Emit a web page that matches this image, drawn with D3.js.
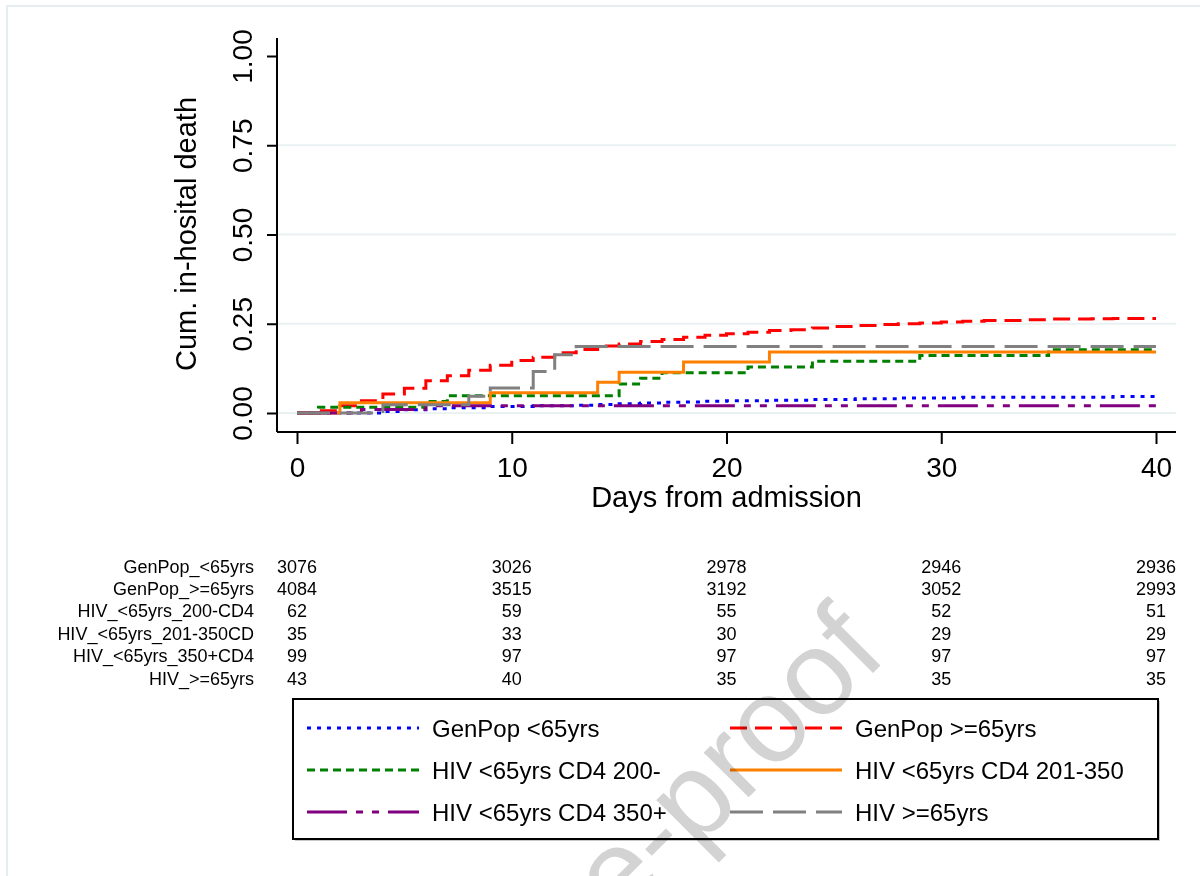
<!DOCTYPE html>
<html>
<head>
<meta charset="utf-8">
<script src="https://cdn.jsdelivr.net/npm/d3@7"></script>
<style>
  body { margin: 0; background: #fff; }
  svg { display: block; font-family: "Liberation Sans", Arial, sans-serif; }
</style>
</head>
<body>
<div id="chart"></div>
<script>
// series in legend order: [day, cumulative incidence] step points
let genPopUnder65 = [[0,0],[4,0.004],[5,0.009],[6,0.012],[7,0.015],[9,0.018],[11,0.020],[13,0.022],[14,0.024],[15,0.026],[16,0.028],[17,0.030],[18,0.031],[19,0.033],[20,0.034],[22,0.036],[24,0.038],[26,0.040],[28,0.042],[31,0.044],[38,0.046],[40,0.046]]
let genPopOver65 = [[0,0],[1,0.006],[2,0.02],[3,0.034],[4,0.053],[5,0.069],[6,0.09],[7,0.104],[8,0.12],[9,0.134],[10,0.147],[11,0.156],[12,0.169],[13,0.178],[14,0.188],[15,0.193],[16,0.200],[17,0.206],[18,0.212],[19,0.218],[20,0.222],[21,0.226],[22,0.231],[23,0.233],[24,0.238],[25,0.242],[26,0.245],[27,0.248],[28,0.250],[29,0.252],[30,0.255],[31,0.257],[32,0.259],[34,0.261],[35,0.263],[37,0.264],[38,0.265],[40,0.265]]
let hivCd4Low = [[0,0],[1,0.016],[6,0.032],[7,0.048],[15,0.081],[16,0.097],[17,0.113],[21,0.129],[24,0.145],[29,0.161],[35,0.177],[40,0.177]]
let hivCd4Mid = [[0,0],[2,0.029],[9,0.057],[14,0.086],[15,0.114],[18,0.143],[22,0.171],[40,0.171]]
let hivCd4High = [[0,0],[3,0.010],[6,0.020],[40,0.020]]
let hivOver65 = [[0,0],[4,0.023],[8,0.047],[9,0.070],[11,0.116],[12,0.163],[13,0.186],[40,0.186]]

let legendLabels = ["GenPop <65yrs", "GenPop >=65yrs", "HIV <65yrs CD4 200-", "HIV <65yrs CD4 201-350", "HIV <65yrs CD4 350+", "HIV >=65yrs"]

// number at risk table
let riskLabels = ["GenPop_<65yrs", "GenPop_>=65yrs", "HIV_<65yrs_200-CD4", "HIV_<65yrs_201-350CD", "HIV_<65yrs_350+CD4", "HIV_>=65yrs"]
let riskDays = [0, 10, 20, 30, 40]
let riskCounts = [
  [3076, 3026, 2978, 2946, 2936],
  [4084, 3515, 3192, 3052, 2993],
  [62, 59, 55, 52, 51],
  [35, 33, 30, 29, 29],
  [99, 97, 97, 97, 97],
  [43, 40, 35, 35, 35]
]

let xTicks = [0, 10, 20, 30, 40]
let yTicks = [0, 0.25, 0.5, 0.75, 1]

let series = [genPopUnder65, genPopOver65, hivCd4Low, hivCd4Mid, hivCd4High, hivOver65]
let colors = ["#0000ff", "#ff0000", "#008000", "#ff8000", "#800080", "#808080"]
let dashes = ["4,6", "17,8", "8,5", null, "40,9,7,9,7,9", "33,10"]

let W = 1200, H = 876
let plot = {left: 277, right: 1176, top: 38, bottom: 432}

let svg = d3.select("#chart").append("svg")
    .attr("width", W)
    .attr("height", H)

// faint page frame (top and left only)
svg.append("path")
  .attr("d", "M7,876V6H1200")
  .attr("fill", "none")
  .attr("stroke", "#e6edf1")
  .attr("stroke-width", 2)

let xScale = d3.scaleLinear()
    .domain([0, 40])
    .range([297, 1156])

let yScale = d3.scaleLinear()
    .domain([0, 1])
    .range([413, 56])

// gridlines
svg.append("g")
  .selectAll("line")
  .data(yTicks.filter(d => d < 1))
  .enter().append("line")
  .attr("x1", plot.left)
  .attr("x2", plot.right)
  .attr("y1", d => yScale(d))
  .attr("y2", d => yScale(d))
  .attr("stroke", "#eaf1f3")
  .attr("stroke-width", 2)

// axes
let xAxis = d3.axisBottom(xScale)
    .tickValues(xTicks)
    .tickSize(12)
    .tickPadding(13)
    .tickSizeOuter(0)

let yAxis = d3.axisLeft(yScale)
    .tickValues(yTicks)
    .tickSize(10)
    .tickFormat(d3.format(".2f"))
    .tickSizeOuter(0)

let gx = svg.append("g")
  .attr("transform", "translate(0," + plot.bottom + ")")
  .call(xAxis)
gx.select(".domain").attr("d", "M" + plot.left + ",0H" + plot.right)
gx.selectAll("path, line").attr("stroke", "#000").attr("stroke-width", 2)
gx.selectAll("text")
  .attr("font-size", 28)
  .attr("font-family", "Liberation Sans, Arial, sans-serif")
  .attr("fill", "#000")

let gy = svg.append("g")
  .attr("transform", "translate(" + plot.left + ",0)")
  .call(yAxis)
gy.select(".domain").attr("d", "M0," + plot.top + "V" + plot.bottom)
gy.selectAll("path, line").attr("stroke", "#000").attr("stroke-width", 2)
gy.selectAll("text")
  .attr("font-size", 28)
  .attr("font-family", "Liberation Sans, Arial, sans-serif")
  .attr("fill", "#000")
  .attr("x", 0)
  .attr("dy", 0)
  .attr("text-anchor", "middle")
  .attr("transform", "translate(-25,0) rotate(-90)")

// axis titles
svg.append("text")
  .attr("x", xScale(20))
  .attr("y", 507)
  .attr("text-anchor", "middle")
  .attr("font-size", 29)
  .text("Days from admission")

svg.append("text")
  .attr("transform", "translate(196," + 234 + ") rotate(-90)")
  .attr("text-anchor", "middle")
  .attr("font-size", 29)
  .text("Cum. in-hosital death")

// curves
let line = d3.line()
    .x(d => xScale(d[0]))
    .y(d => yScale(d[1]))
    .curve(d3.curveStepAfter)

svg.append("g")
  .selectAll("path")
  .data(series)
  .enter().append("path")
  .attr("d", line)
  .attr("fill", "none")
  .attr("stroke", (d, i) => colors[i])
  .attr("stroke-width", 3)
  .attr("stroke-dasharray", (d, i) => dashes[i])

// number at risk table
let risk = svg.append("g").attr("font-size", 18).attr("fill", "#000")
riskLabels.forEach((lab, i) => {
  let y = 572.5 + i * 22.4
  risk.append("text")
    .attr("x", 254)
    .attr("y", y)
    .attr("text-anchor", "end")
    .text(lab)
  risk.selectAll(null)
    .data(riskCounts[i])
    .enter().append("text")
    .attr("x", (d, j) => xScale(riskDays[j]))
    .attr("y", y)
    .attr("text-anchor", "middle")
    .text(d => d)
})

// legend
let legend = svg.append("g")
legend.append("rect")
  .attr("x", 295)
  .attr("y", 701)
  .attr("width", 865)
  .attr("height", 140)
  .attr("fill", "#c8c8c8")
legend.append("rect")
  .attr("x", 293)
  .attr("y", 699)
  .attr("width", 865)
  .attr("height", 140)
  .attr("fill", "#fff")
  .attr("stroke", "#000")
  .attr("stroke-width", 2)

legendLabels.forEach((lab, i) => {
  let col = i % 2, row = Math.floor(i / 2)
  let x0 = col === 0 ? 307 : 730
  let y = 728 + row * 42
  legend.append("line")
    .attr("x1", x0)
    .attr("x2", x0 + 112)
    .attr("y1", y)
    .attr("y2", y)
    .attr("stroke", colors[i])
    .attr("stroke-width", 3)
    .attr("stroke-dasharray", dashes[i])
  legend.append("text")
    .attr("x", x0 + 125)
    .attr("y", y + 9)
    .attr("font-size", 24)
    .text(lab)
})

// watermark
svg.append("text")
  .attr("transform", "translate(889,657) rotate(-45)")
  .attr("text-anchor", "end")
  .attr("font-size", 120)
  .attr("fill", "#d3d3d3")
  .style("mix-blend-mode", "multiply")
  .text("Journal Pre-proof")
</script>
</body>
</html>
